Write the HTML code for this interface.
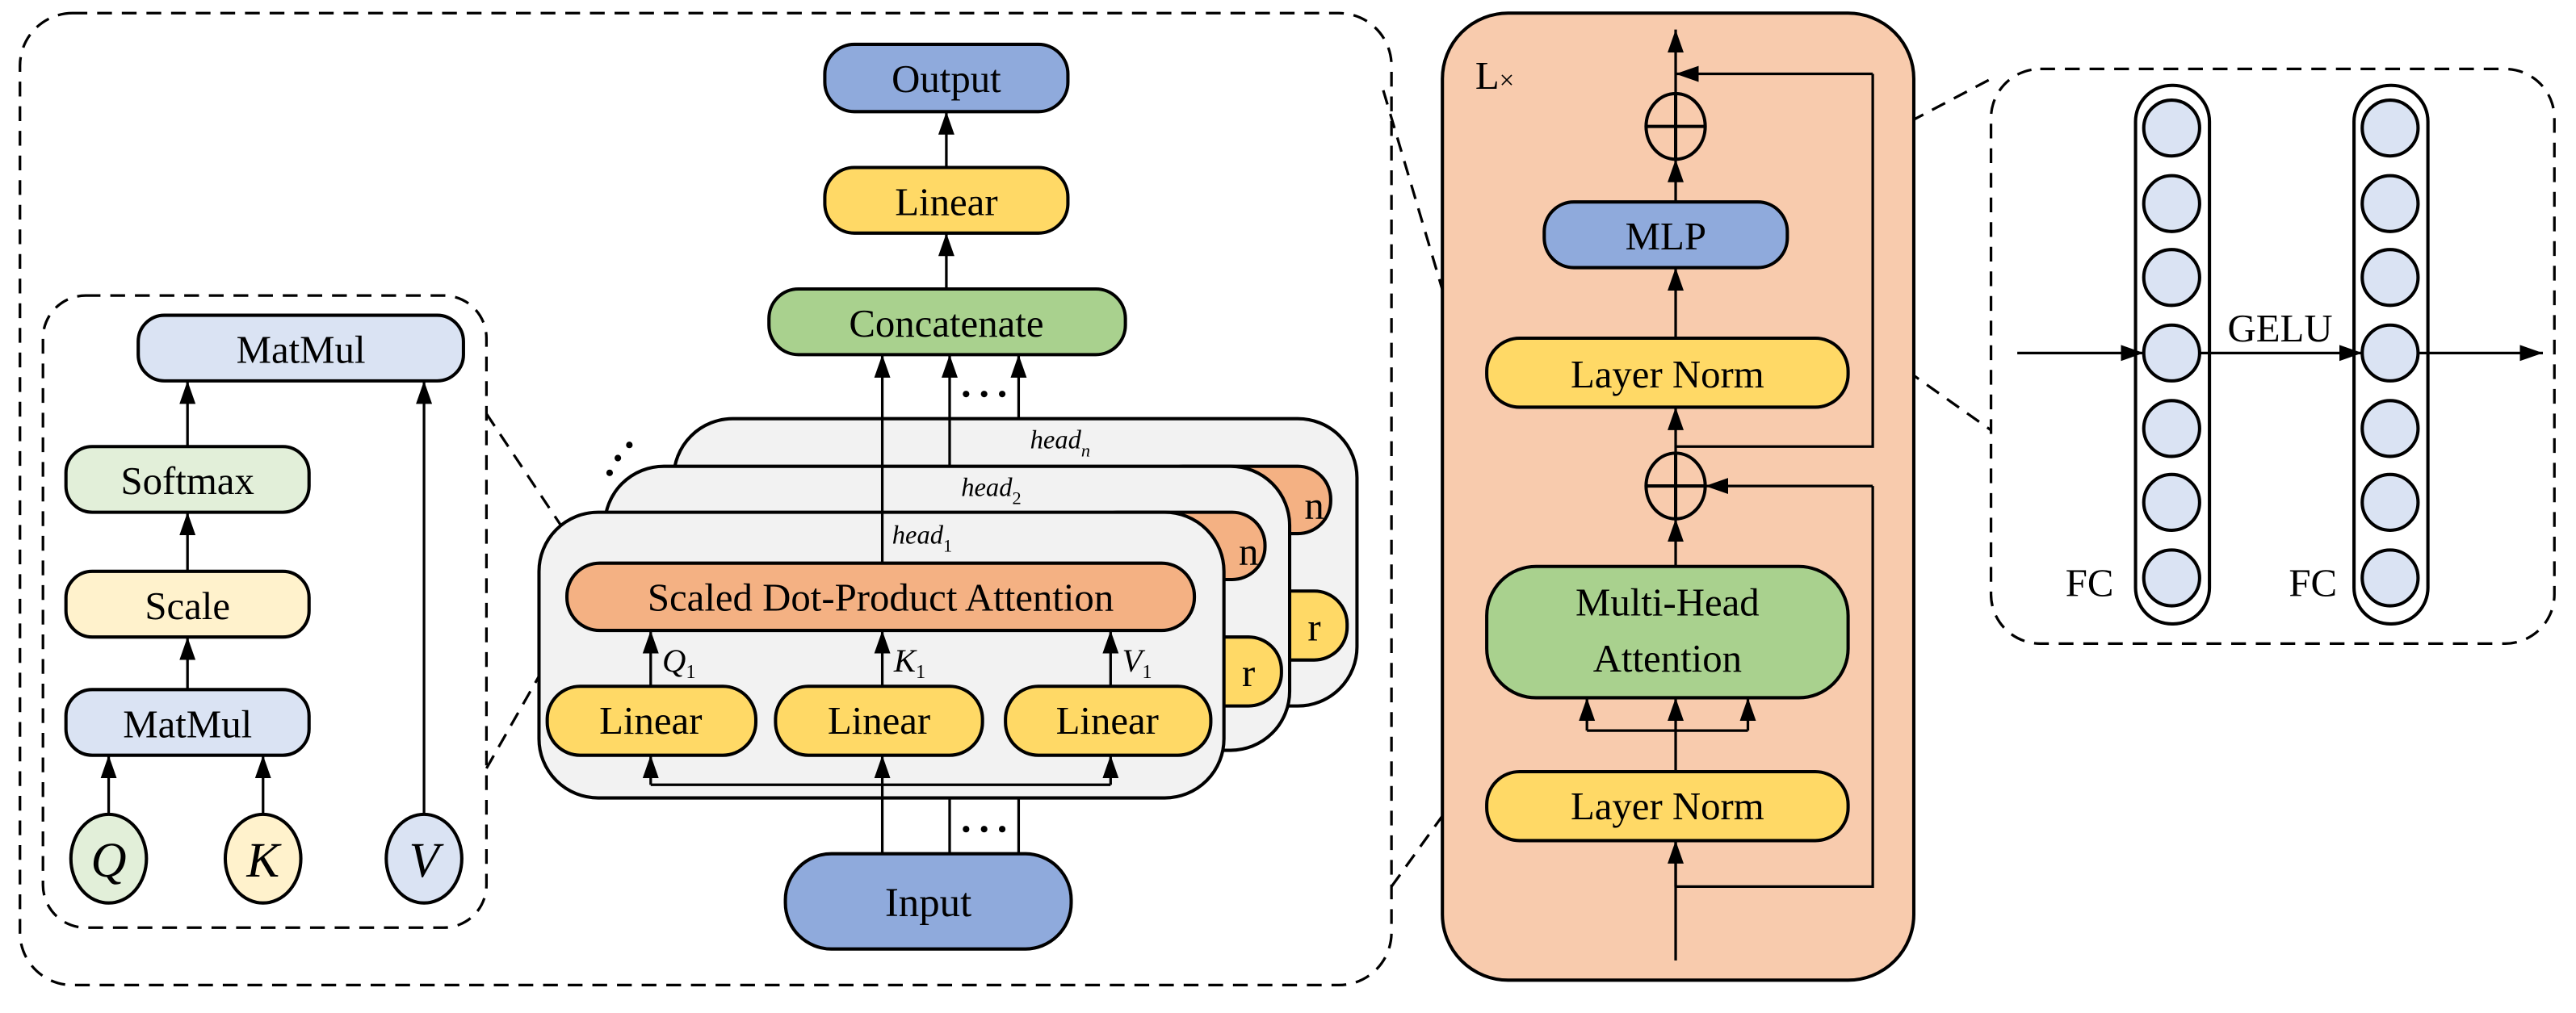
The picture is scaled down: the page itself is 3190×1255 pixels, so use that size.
<!DOCTYPE html>
<html><head><meta charset="utf-8"><style>html,body{margin:0;padding:0;background:#fff}svg{display:block}text,tspan{font-family:"Liberation Serif","Times New Roman",Tinos,"Noto Serif CJK SC","DejaVu Serif",serif}</style></head>
<body>
<svg width="3190" height="1255" viewBox="0 0 1568 617" xmlns="http://www.w3.org/2000/svg">
<defs><marker id="b" viewBox="0 0 10 10" refX="10" refY="5" markerWidth="14" markerHeight="14" orient="auto" markerUnits="userSpaceOnUse"><path d="M0,1.5L10,5L0,8.5z"/></marker></defs>
<g fill="none" stroke="#000" stroke-width="1.6" stroke-dasharray="9,6">
<rect x="12" y="8" width="835" height="592" rx="32"/>
<rect x="26" y="180" width="270" height="385" rx="26"/>
<rect x="1212" y="42" width="343" height="350" rx="30"/>
<line x1="296" y1="252" x2="360" y2="348"/><line x1="296" y1="468" x2="345" y2="382"/>
<line x1="842" y1="55" x2="930" y2="352"/><line x1="847" y1="540" x2="932" y2="422"/>
<line x1="1070" y1="123" x2="1212" y2="48"/><line x1="1075" y1="165" x2="1212" y2="262"/>
</g>
<g stroke="#000" stroke-width="2">
<rect x="84" y="192" width="198" height="40" rx="16" fill="#dae3f3"/>
<rect x="40" y="272" width="148" height="40" rx="16" fill="#e2efd9"/>
<rect x="40" y="348" width="148" height="40" rx="16" fill="#fff2cc"/>
<rect x="40" y="420" width="148" height="40" rx="16" fill="#dae3f3"/>
<ellipse cx="66" cy="523" rx="23" ry="27" fill="#e2efd9"/>
<ellipse cx="160" cy="523" rx="23" ry="27" fill="#fff2cc"/>
<ellipse cx="258" cy="523" rx="23" ry="27" fill="#dae3f3"/>
</g>
<g stroke="#000" stroke-width="1.6" marker-end="url(#b)">
<line x1="114" y1="272" x2="114" y2="232"/><line x1="114" y1="348" x2="114" y2="312"/><line x1="114" y1="420" x2="114" y2="388"/>
<line x1="66" y1="496" x2="66" y2="460"/><line x1="160" y1="496" x2="160" y2="460"/><line x1="258" y1="496" x2="258" y2="232"/>
</g>
<g font-size="24" text-anchor="middle">
<text x="183" y="221">MatMul</text><text x="114" y="301">Softmax</text><text x="114" y="377">Scale</text><text x="114" y="449">MatMul</text>
<text x="66" y="534" font-style="italic" font-size="30">Q</text><text x="160" y="534" font-style="italic" font-size="30">K</text><text x="258" y="534" font-style="italic" font-size="30">V</text>
</g>
<g stroke="#000" stroke-width="2">
<rect x="502" y="27" width="148" height="41" rx="18" fill="#8faadc"/>
<rect x="502" y="102" width="148" height="40" rx="18" fill="#ffd966"/>
<rect x="468" y="176" width="217" height="40" rx="18" fill="#a9d18e"/>
<rect x="410" y="255" width="416" height="175" rx="36" fill="#f2f2f2"/>
<rect x="700" y="284" width="110" height="41" rx="20" fill="#f4b183"/>
<rect x="740" y="360" width="80" height="42" rx="20" fill="#ffd966"/>
<rect x="368" y="284" width="417" height="173" rx="36" fill="#f2f2f2"/>
<rect x="660" y="312" width="110" height="41" rx="20" fill="#f4b183"/>
<rect x="700" y="388" width="80" height="42" rx="20" fill="#ffd966"/>
<rect x="328" y="312" width="417" height="174" rx="36" fill="#f2f2f2"/>
<rect x="345" y="343" width="382" height="41" rx="20" fill="#f4b183"/>
<rect x="333" y="418" width="127" height="42" rx="20" fill="#ffd966"/>
<rect x="472" y="418" width="126" height="42" rx="20" fill="#ffd966"/>
<rect x="612" y="418" width="125" height="42" rx="20" fill="#ffd966"/>
<rect x="478" y="520" width="174" height="58" rx="28" fill="#8faadc"/>
</g>
<g font-size="24" text-anchor="middle">
<text x="800" y="316">n</text><text x="760" y="344">n</text><text x="800" y="390">r</text><text x="760" y="418">r</text>
</g>
<g stroke="#000" stroke-width="1.6" fill="none">
<line x1="537" y1="520" x2="537" y2="478"/><line x1="578" y1="520" x2="578" y2="486"/><line x1="620" y1="520" x2="620" y2="486"/>
<line x1="396" y1="478" x2="676" y2="478"/>
</g>
<g stroke="#000" stroke-width="1.6" marker-end="url(#b)">
<line x1="576" y1="102" x2="576" y2="68"/><line x1="576" y1="176" x2="576" y2="142"/>
<line x1="537" y1="343" x2="537" y2="216"/><line x1="578" y1="284" x2="578" y2="216"/><line x1="620" y1="255" x2="620" y2="216"/>
<line x1="396" y1="478" x2="396" y2="460"/><line x1="537" y1="478" x2="537" y2="460"/><line x1="676" y1="478" x2="676" y2="460"/>
<line x1="396" y1="418" x2="396" y2="384"/><line x1="537" y1="418" x2="537" y2="384"/><line x1="676" y1="418" x2="676" y2="384"/>
</g>
<g fill="#000"><circle cx="588" cy="240" r="2"/><circle cx="599" cy="240" r="2"/><circle cx="610" cy="240" r="2"/>
<circle cx="588" cy="505" r="2"/><circle cx="599" cy="505" r="2"/><circle cx="610" cy="505" r="2"/>
<circle cx="371" cy="288" r="2"/><circle cx="376" cy="279" r="2"/><circle cx="383" cy="271" r="2"/></g>
<g font-size="24" text-anchor="middle">
<text x="576" y="56">Output</text><text x="576" y="131">Linear</text><text x="576" y="205">Concatenate</text>
<text x="536" y="372">Scaled Dot-Product Attention</text>
<text x="396" y="447">Linear</text><text x="535" y="447">Linear</text><text x="674" y="447">Linear</text>
<text x="565" y="558" font-size="25">Input</text>
</g>
<g font-size="16" font-style="italic">
<text x="543" y="331">head<tspan font-size="11" dy="5" font-style="normal">1</tspan></text>
<text x="585" y="302">head<tspan font-size="11" dy="5" font-style="normal">2</tspan></text>
<text x="627" y="273">head<tspan font-size="11" dy="5">n</tspan></text>
<text x="403" y="409" font-size="20">Q<tspan font-size="12" dy="4" font-style="normal">1</tspan></text>
<text x="544" y="409" font-size="20">K<tspan font-size="12" dy="4" font-style="normal">1</tspan></text>
<text x="683" y="409" font-size="20">V<tspan font-size="12" dy="4" font-style="normal">1</tspan></text>
</g>
<rect x="878" y="8" width="287" height="589" rx="40" fill="#f8cbad" stroke="#000" stroke-width="2"/>
<text x="898" y="54" font-size="24">L<tspan font-size="16">×</tspan></text>
<g stroke="#000" stroke-width="2">
<rect x="905" y="470" width="220" height="42" rx="20" fill="#ffd966"/>
<rect x="905" y="345" width="220" height="80" rx="30" fill="#a9d18e"/>
<rect x="905" y="206" width="220" height="42" rx="20" fill="#ffd966"/>
<rect x="940" y="123" width="148" height="40" rx="18" fill="#8faadc"/>
<ellipse cx="1020" cy="296" rx="18" ry="20" fill="none"/>
<ellipse cx="1020" cy="77" rx="18" ry="20" fill="none"/>
<line x1="1002" y1="296" x2="1038" y2="296"/><line x1="1002" y1="77" x2="1038" y2="77"/>
<line x1="1020" y1="276" x2="1020" y2="316"/><line x1="1020" y1="57" x2="1020" y2="97"/>
</g>
<g stroke="#000" stroke-width="1.6" fill="none">
<line x1="1020" y1="585" x2="1020" y2="512"/>
<polyline points="1020,540 1140,540 1140,296"/>
<polyline points="1020,272 1140,272 1140,45"/>
<line x1="966" y1="445" x2="1064" y2="445"/><line x1="1020" y1="470" x2="1020" y2="445"/>
</g>
<g stroke="#000" stroke-width="1.6" marker-end="url(#b)">
<line x1="1020" y1="540" x2="1020" y2="512"/>
<line x1="966" y1="445" x2="966" y2="425"/><line x1="1020" y1="445" x2="1020" y2="425"/><line x1="1064" y1="445" x2="1064" y2="425"/>
<line x1="1020" y1="345" x2="1020" y2="316"/>
<line x1="1140" y1="296" x2="1038" y2="296"/>
<line x1="1020" y1="276" x2="1020" y2="248"/>
<line x1="1020" y1="206" x2="1020" y2="163"/>
<line x1="1020" y1="123" x2="1020" y2="97"/>
<line x1="1140" y1="45" x2="1020" y2="45"/>
<line x1="1020" y1="57" x2="1020" y2="18"/>
</g>
<g font-size="24" text-anchor="middle">
<text x="1015" y="236">Layer Norm</text><text x="1015" y="375">Multi-Head</text><text x="1015" y="409">Attention</text>
<text x="1015" y="499">Layer Norm</text><text x="1014" y="152">MLP</text>
</g>
<g stroke="#000" stroke-width="2" fill="#dae3f3">
<rect x="1300" y="52" width="45" height="328" rx="22" fill="#fff"/>
<rect x="1433" y="52" width="45" height="328" rx="22" fill="#fff"/>
<circle cx="1322" cy="78" r="17"/><circle cx="1322" cy="124" r="17"/><circle cx="1322" cy="169" r="17"/><circle cx="1322" cy="215" r="17"/><circle cx="1322" cy="261" r="17"/><circle cx="1322" cy="306" r="17"/><circle cx="1322" cy="352" r="17"/>
<circle cx="1455" cy="78" r="17"/><circle cx="1455" cy="124" r="17"/><circle cx="1455" cy="169" r="17"/><circle cx="1455" cy="215" r="17"/><circle cx="1455" cy="261" r="17"/><circle cx="1455" cy="306" r="17"/><circle cx="1455" cy="352" r="17"/>
</g>
<g stroke="#000" stroke-width="1.6" marker-end="url(#b)">
<line x1="1228" y1="215" x2="1305" y2="215"/><line x1="1339" y1="215" x2="1438" y2="215"/><line x1="1472" y1="215" x2="1548" y2="215"/>
</g>
<g font-size="24" text-anchor="middle"><text x="1388" y="208">GELU</text><text x="1272" y="363">FC</text><text x="1408" y="363">FC</text></g>
</svg>
</body></html>
